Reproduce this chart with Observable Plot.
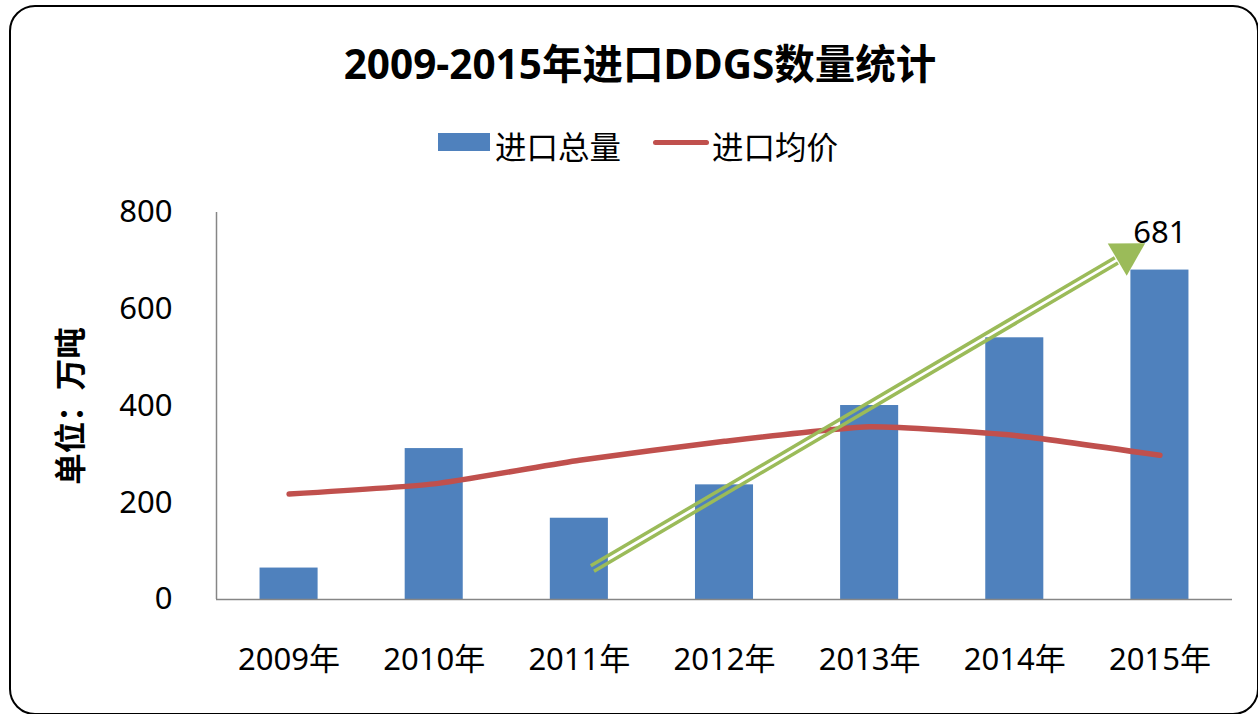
<!DOCTYPE html>
<html>
<head>
<meta charset="utf-8">
<script src="https://cdn.jsdelivr.net/npm/d3@7"></script>
<script src="https://cdn.jsdelivr.net/npm/@observablehq/plot@0.6"></script>
<style>
  html, body { margin: 0; padding: 0; background: #fff; }
  body { width: 1258px; height: 714px; position: relative; overflow: hidden;
         font-family: "Noto Sans", "Noto Sans CJK SC", sans-serif; color: #000; }
  #frame { position: absolute; left: 9px; top: 5px; width: 1250px; height: 710px;
           border: 2.5px solid #000; border-radius: 26px; box-sizing: border-box; }
  #title { position: absolute; left: 0; top: 37px; width: 1280px; text-align: center;
           font-weight: bold; font-size: 40.5px; line-height: 54px; }
  .lg { position: absolute; font-size: 31.5px; line-height: 38px; }
  #chart { position: absolute; left: 0; top: 180px; }
</style>
</head>
<body>
<div id="frame"></div>
<div id="title"></div>
<div id="legend"></div>
<div id="chart"></div>
<script>
// ---- data ----
const chartTitle = "2009-2015年进口DDGS数量统计";
const seriesNames = ["进口总量", "进口均价"];
const yAxisTitle = "单位：万吨";
const years = [2009, 2010, 2011, 2012, 2013, 2014, 2015];
const volumes = [65, 312, 168, 237, 401, 541, 681];
const prices = [218, 239, 288, 327, 357, 339, 298];
const yTicks = [0, 200, 400, 600, 800];
const yearSuffix = "年";
// trend arrow annotation (data units)
const arrowStart = {year: 2011.09, value: 64};
const arrowEnd = {year: 2014.70, value: 701};
const arrowHead = {year: 2014.77, value: 714};

const colors = {bar: "#4F81BD", line: "#C0504D", arrow: "#9BBB59", axis: "#868686"};

const barData = years.map((y, i) => ({year: y, value: volumes[i]}));
const lineData = years.map((y, i) => ({year: y, value: prices[i]}));
const lastBar = barData[barData.length - 1];
const arrowSeg = [{x1: arrowStart.year, y1: arrowStart.value, x2: arrowEnd.year, y2: arrowEnd.value}];

document.getElementById("title").textContent = chartTitle;

// legend
const legend = document.getElementById("legend");
legend.innerHTML = `
  <div style="position:absolute;left:438px;top:133px;width:52px;height:18px;background:${colors.bar}"></div>
  <div class="lg" style="left:495px;top:128px">${seriesNames[0]}</div>
  <div style="position:absolute;left:653px;top:139.5px;width:56px;height:5px;border-radius:3px;background:${colors.line}"></div>
  <div class="lg" style="left:712px;top:128px">${seriesNames[1]}</div>`;

const plot = Plot.plot({
  width: 1258,
  height: 534,
  marginLeft: 216,
  marginRight: 26,
  marginTop: 32,
  marginBottom: 115,
  x: {domain: [2008.5, 2015.5], ticks: years, tickFormat: d => d + yearSuffix, tickSize: 0, tickPadding: 48, label: null},
  y: {domain: [0, 800], ticks: yTicks, tickSize: 0, tickPadding: 44, label: null},
  style: {fontSize: "31px", fontFamily: '"Noto Sans", "Noto Sans CJK SC", sans-serif', color: "#000", background: "transparent", overflow: "visible"},
  marks: [
    Plot.rectY(barData, {x1: d => d.year - 0.2, x2: d => d.year + 0.2, y: "value", fill: colors.bar}),
    Plot.ruleY([0], {stroke: colors.axis, strokeWidth: 1.5}),
    Plot.ruleX([2008.5], {y1: 0, y2: 800, stroke: colors.axis, strokeWidth: 1.5}),
    Plot.line(lineData, {x: "year", y: "value", stroke: colors.line, strokeWidth: 5.5, curve: "cardinal", tension: 0.5, strokeLinecap: "round"}),
    Plot.link(arrowSeg, {x1: "x1", y1: "y1", x2: "x2", y2: "y2", stroke: colors.arrow, strokeWidth: 3.5, dx: -1.6, dy: -2.7, ariaLabel: "arrow"}),
    Plot.link(arrowSeg, {x1: "x1", y1: "y1", x2: "x2", y2: "y2", stroke: colors.arrow, strokeWidth: 3.5, dx: 1.6, dy: 2.7, ariaLabel: "arrow"}),
    Plot.dot([arrowHead], {x: "year", y: "value", symbol: "triangle", r: 13.9, fill: colors.arrow, stroke: "none", rotate: 59.6, ariaLabel: "arrow"}),
    Plot.text([lastBar], {x: "year", y: "value", text: d => String(d.value), dy: -37, fontSize: 31}),
    Plot.text([yAxisTitle], {frameAnchor: "left", dx: -145, rotate: -90, text: d => d, textAnchor: "middle", fontWeight: "bold", fontSize: 31.5})
  ]
});
plot.querySelectorAll('g[aria-label="arrow"]').forEach(g => {
  g.style.filter = "drop-shadow(6px 9px 7px rgba(0,0,0,0.3))";
});
document.getElementById("chart").appendChild(plot);
</script>
</body>
</html>
